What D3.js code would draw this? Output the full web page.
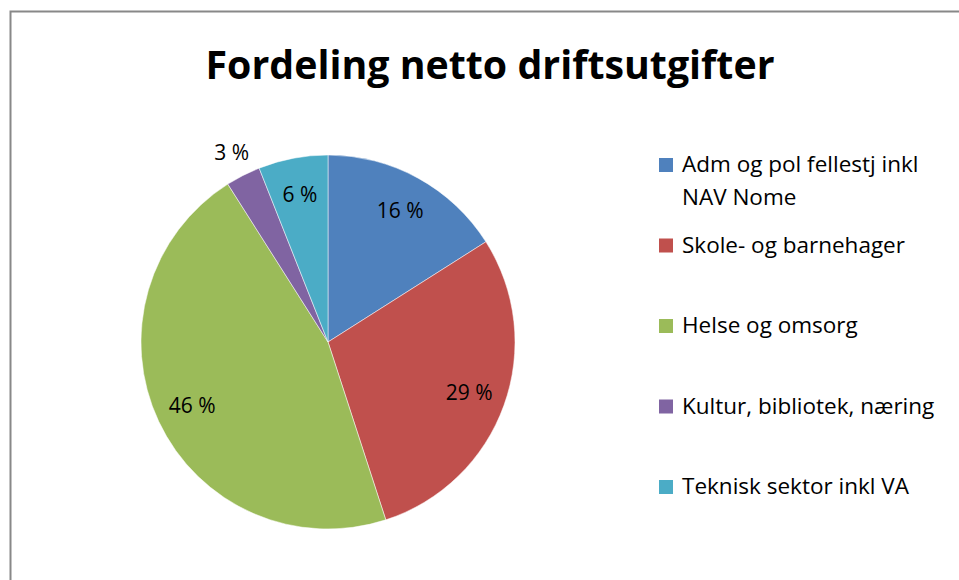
<!DOCTYPE html>
<html>
<head>
<meta charset="utf-8">
<script src="https://cdn.jsdelivr.net/npm/d3@7"></script>
<style>
  body { margin: 0; background: #fff; }
  text { font-family: "Open Sans", "Noto Sans", sans-serif; fill: #000; }
</style>
</head>
<body>
<div class="pie-container"></div>
<script>
// Data
const categories = [
    'Adm og pol fellestj inkl NAV Nome',
    'Skole- og barnehager',
    'Helse og omsorg',
    'Kultur, bibliotek, næring',
    'Teknisk sektor inkl VA'
];
const values = [16, 29, 46, 3, 6];
const legendLines = [
    ['Adm og pol fellestj inkl', 'NAV Nome'],
    ['Skole- og barnehager'],
    ['Helse og omsorg'],
    ['Kultur, bibliotek, næring'],
    ['Teknisk sektor inkl VA']
];
const colors = ['#4F81BD', '#C0504D', '#9BBB59', '#8064A2', '#4BACC6'];
const title = 'Fordeling netto driftsutgifter';

const width = 959;
const height = 580;

const svg = d3.select('.pie-container')
    .append('svg')
    .attr('width', width)
    .attr('height', height);

// Chart frame (right and bottom edges fall outside the picture)
svg.append('rect')
    .attr('x', 10.5)
    .attr('y', 11.5)
    .attr('width', 1000)
    .attr('height', 1000)
    .style('fill', 'none')
    .style('stroke', '#888')
    .style('stroke-width', 2);

// Title
svg.append('text')
    .attr('x', 490)
    .attr('y', 79)
    .attr('text-anchor', 'middle')
    .attr('textLength', 569)
    .attr('lengthAdjust', 'spacingAndGlyphs')
    .style('font-size', '39px')
    .style('font-weight', 'bold')
    .text(title);

// Pie
const cx = 328, cy = 342, radius = 187;
const color = d3.scaleOrdinal().domain(categories).range(colors);

const pie = d3.pie().sort(null).value(d => d.value);
const arcs = pie(categories.map((c, i) => ({category: c, value: values[i]})));
const arc = d3.arc().innerRadius(0).outerRadius(radius);
const labelArc = d3.arc().innerRadius(150).outerRadius(150);
const outerLabelArc = d3.arc().innerRadius(212).outerRadius(212);

const g = svg.append('g')
    .attr('transform', `translate(${cx}, ${cy})`);

g.selectAll('path')
    .data(arcs)
    .enter()
    .append('path')
    .attr('d', arc)
    .style('fill', d => color(d.data.category))
    .style('stroke', '#fff')
    .style('stroke-width', 0.5);

g.selectAll('.label')
    .data(arcs)
    .enter()
    .append('text')
    .attr('class', 'label')
    .attr('transform', d => `translate(${(d.data.value < 5 ? outerLabelArc : labelArc).centroid(d)})`)
    .attr('text-anchor', 'middle')
    .attr('dy', '0.35em')
    .style('font-size', '21px')
    .text(d => `${d.data.value} %`);

// Legend
const legend = svg.append('g')
    .attr('transform', 'translate(659, 0)');

const item = legend.selectAll('.legend-item')
    .data(categories)
    .enter()
    .append('g')
    .attr('class', 'legend-item')
    .attr('transform', (d, i) => `translate(0, ${165 + i * 80.5})`);

item.append('rect')
    .attr('x', 0)
    .attr('y', -7)
    .attr('width', 14)
    .attr('height', 14)
    .style('fill', d => color(d));

item.append('text')
    .attr('x', 23)
    .attr('y', 7)
    .style('font-size', '22.5px')
    .selectAll('tspan')
    .data((d, i) => legendLines[i])
    .enter()
    .append('tspan')
    .attr('x', 23)
    .attr('dy', (d, i) => i === 0 ? 0 : 33)
    .text(d => d);
</script>
</body>
</html>
